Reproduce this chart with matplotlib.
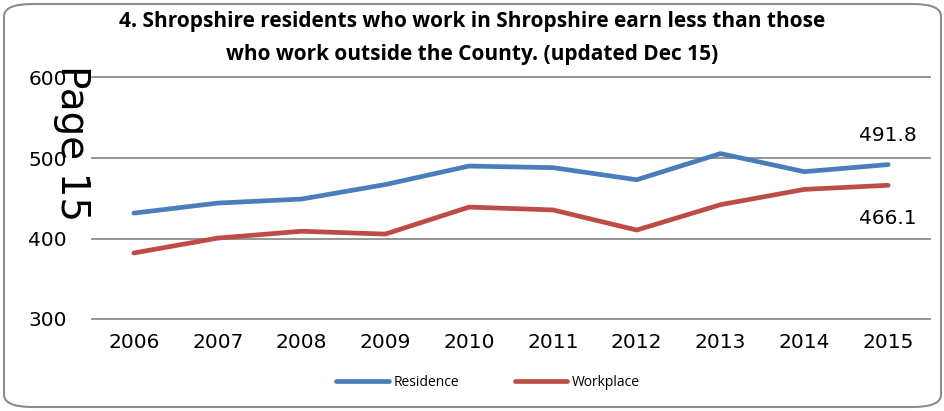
import matplotlib.pyplot as plt
from matplotlib.patches import FancyBboxPatch

# -------- DATA --------
years = ["2006", "2007", "2008", "2009", "2010", "2011", "2012", "2013", "2014", "2015"]
residence = [431.5, 444, 449, 467, 490, 488, 473, 505.5, 483, 491.8]
workplace = [382, 400.5, 409, 405.5, 439, 435.5, 410.5, 442, 461, 466.1]

title = ("4. Shropshire residents who work in Shropshire earn less than those\n"
         "who work outside the County. (updated Dec 15)")

# -------- FIGURE --------
fig = plt.figure(figsize=(9.45, 4.11), dpi=100)
ax = fig.add_axes([92 / 945, 1 - 319 / 411, 838 / 945, 241.5 / 411])

x = range(len(years))
ax.plot(x, residence, color="#4a7ebb", lw=3.4, solid_capstyle="round", label="Residence")
ax.plot(x, workplace, color="#be4b48", lw=3.4, solid_capstyle="round", label="Workplace")

ax.set_xlim(-0.5, len(years) - 0.5)
ax.set_ylim(300, 600)
ax.set_yticks([300, 400, 500, 600])
ax.set_xticks(list(x))
ax.set_xticklabels(years)
ax.tick_params(length=0, labelsize=14.5)
ax.tick_params(axis="x", pad=10)
ax.tick_params(axis="y", pad=18)
ax.grid(axis="y", color="#8c8c8c", lw=1.3)
for gl in ax.get_ygridlines():
    gl.set_clip_on(False)
ax.set_axisbelow(True)
for s in ax.spines.values():
    s.set_visible(False)

# end-of-line value labels
ax.annotate(f"{residence[-1]}", (x[-1], residence[-1]), xytext=(0, 21),
            textcoords="offset points", ha="center", va="center", fontsize=14.5)
ax.annotate(f"{workplace[-1]}", (x[-1], workplace[-1]), xytext=(0, -24),
            textcoords="offset points", ha="center", va="center", fontsize=14.5)

fig.text(0.5, 1 - 38 / 411, title, ha="center", va="center", fontsize=15,
         fontweight="bold", family="Open Sans", linespacing=1.7)

fig.legend(loc="center", bbox_to_anchor=(488 / 945, 1 - 382 / 411), ncol=2,
           frameon=False, handlelength=3.8, columnspacing=4,
           handletextpad=0.3, prop={"family": "Open Sans", "size": 10})

fig.text(72 / 945, 1 - 143 / 411, "Page 15", rotation=-90, ha="center", va="center",
         fontsize=28)

# rounded chart border
fig.patches.append(FancyBboxPatch((4 / 945, 4 / 411), 937 / 945, 403 / 411,
                                  boxstyle="round,pad=0,rounding_size=0.03",
                                  transform=fig.transFigure, fill=False,
                                  edgecolor="#8c8c8c", lw=1.5))

fig.savefig("out.png", dpi=100)
